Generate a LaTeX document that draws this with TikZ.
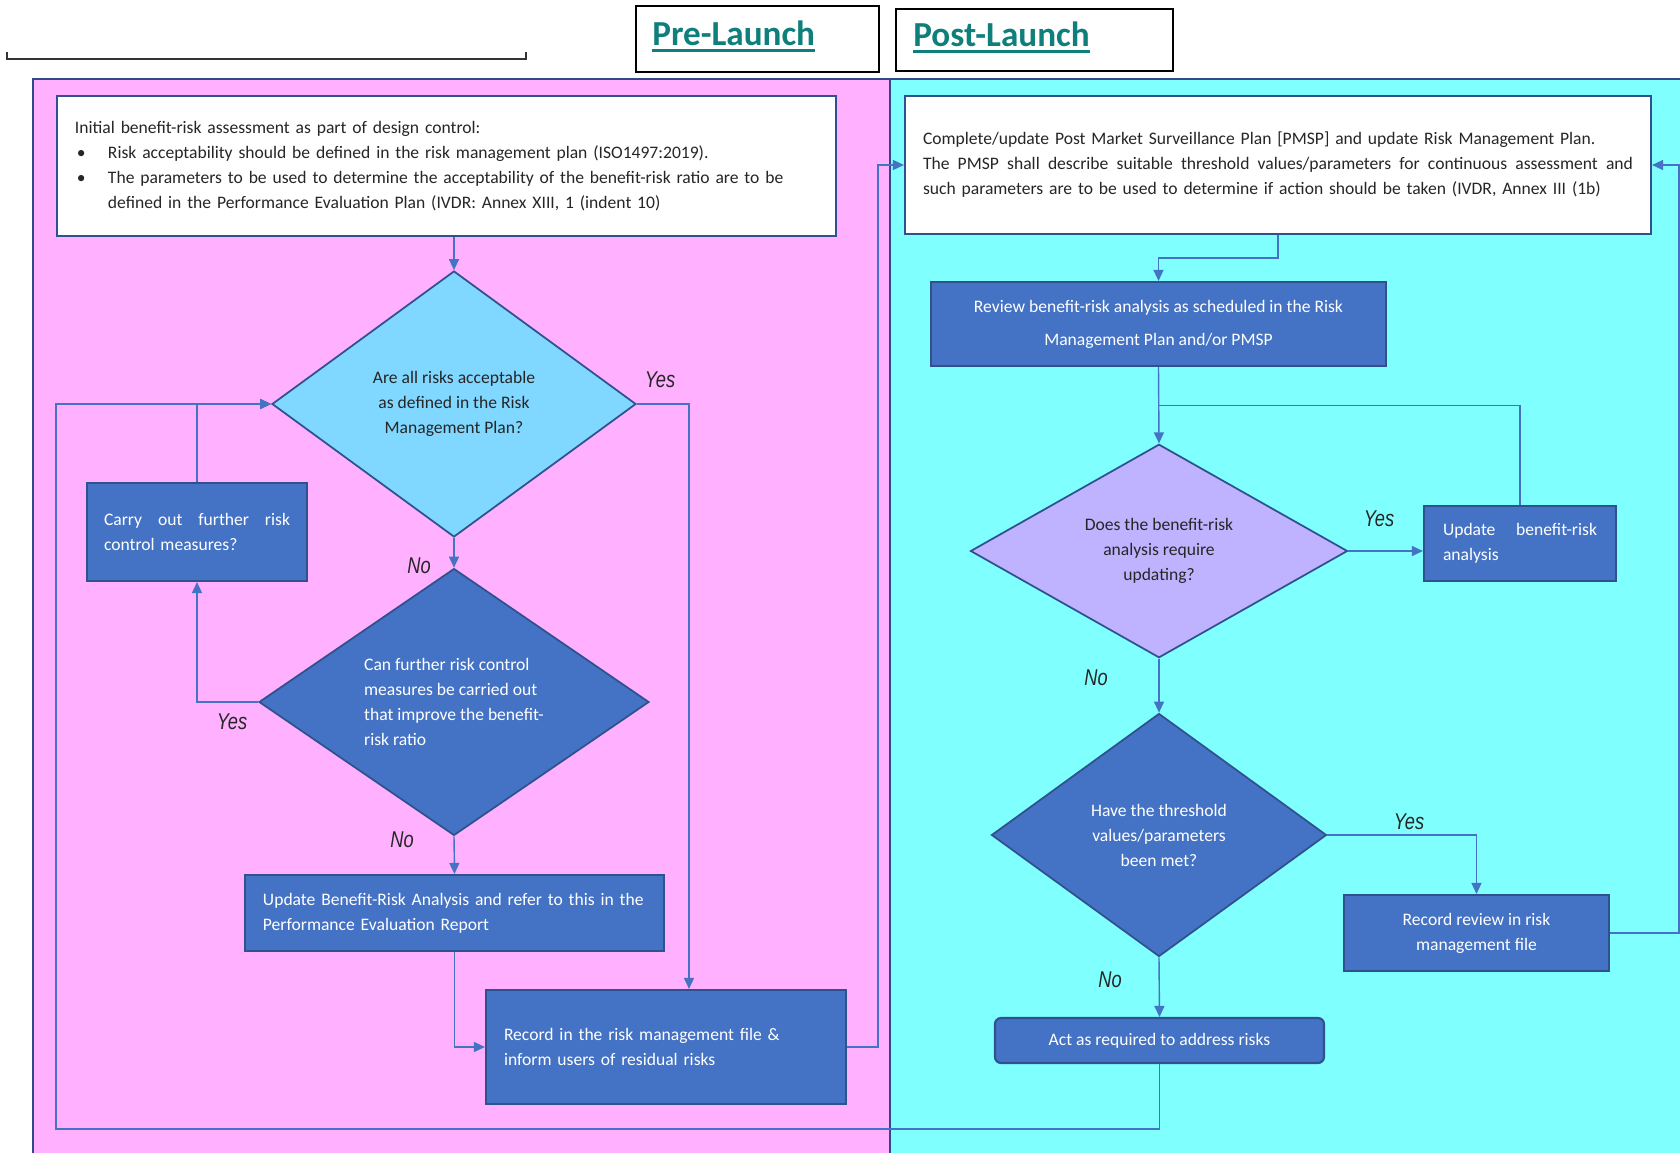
\documentclass[tikz,border=0pt]{standalone}
\usepackage{fontspec}
\setmainfont{Carlito}
\newfontfamily\lblfont[FakeStretch=0.8]{Liberation Sans}
\usetikzlibrary{shapes.geometric,arrows.meta,calc}

\definecolor{pinkbg}{HTML}{FFB1FF}
\definecolor{cyanbg}{HTML}{80FFFF}
\definecolor{panelline}{HTML}{2F4A8A}
\definecolor{boxblue}{HTML}{4472C4}
\definecolor{boxedge}{HTML}{2F528F}
\definecolor{skyq}{HTML}{80D7FF}
\definecolor{lilacq}{HTML}{BFB2FF}
\definecolor{titleteal}{HTML}{0E7F7A}
\definecolor{txtgray}{HTML}{262626}

\newcommand{\fullline}[2]{\leavevmode\hbox to #1{\spaceskip=0.23em plus 2em\relax #2}}
\newcommand{\thickul}[1]{\setbox0\hbox{#1}\rlap{\rule[-4pt]{\wd0}{1.6pt}}\box0}

\tikzset{
	bodyfont/.style={font=\fontsize{10}{14.2}\selectfont},
	whitebox/.style={rectangle, draw=boxedge, line width=1.2pt, fill=white, text=txtgray, bodyfont, align=left, inner xsep=3.6mm, inner ysep=0pt},
	bluebox/.style={rectangle, draw=boxedge, line width=1.2pt, fill=boxblue, text=white, bodyfont, inner xsep=3.6mm, inner ysep=0pt},
	decision/.style={diamond, draw=boxedge, line width=1pt, bodyfont, inner sep=0pt},
	conn/.style={draw=boxblue, line width=0.8pt, -{Triangle[length=2.2mm,width=2mm]}},
	link/.style={draw=boxblue, line width=0.8pt},
	answer/.style={font=\lblfont\itshape\fontsize{13}{13}\selectfont, text=txtgray, inner sep=0pt},
	title/.style={font=\bfseries\fontsize{20}{22}\selectfont, text=titleteal, anchor=base west, inner sep=0pt},
}

\begin{document}
\begin{tikzpicture}[x=0.2mm, y=-0.2mm]
	\useasboundingbox (0,0) rectangle (1680,1153);

	% panels
	\fill [pinkbg] (33,79) rectangle (890,1153);
	\fill [cyanbg] (890,79) rectangle (1680,1153);
	\draw [panelline, line width=1.2pt] (33,1153) -- (33,79) -- (1680,79);
	\draw [panelline, line width=1.2pt] (890,79) -- (890,1153);

	% headings
	\draw [black!80, line width=1pt] (7,52) -- (7,59) -- (526,59) -- (526,52);
	\draw [black, line width=0.9pt] (636,6) rectangle (879,72);
	\draw [black, line width=0.9pt] (896,9) rectangle (1173,71);
	\node [title] (pre) at (652,45) {\thickul{Pre-Launch}};
	\node [title] (post) at (913,46) {\thickul{Post-Launch}};

	% pre-launch
	\node [whitebox, minimum width=155.8mm, minimum height=28mm, text width=148.6mm] (tl) at (446.5,166) {Initial benefit-risk assessment as part of design control:\\
		\makebox[6.6mm][l]{\hspace{0.4mm}\textbullet}Risk acceptability should be defined in the risk management plan (ISO1497:2019).\\
		\makebox[6.6mm][l]{\hspace{0.4mm}\textbullet}The parameters to be used to determine the acceptability of the benefit-risk ratio are to be\\
		\hspace*{6.6mm}defined in the Performance Evaluation Plan (IVDR: Annex XIII, 1 (indent 10)};
	\node [decision, fill=skyq, text=txtgray, align=center, minimum width=72.8mm, minimum height=53.2mm] (q1) at (454,404) {Are all risks acceptable\\as defined in the Risk\\Management Plan?};
	\node [decision, fill=boxblue, text=white, align=left, minimum width=78mm, minimum height=48.4mm] (q2) at (454,702) {Can further risk control\\measures be carried out\\that improve the benefit-\\risk ratio};
	\node [bluebox, align=left, inner xsep=3.4mm, minimum width=44mm, minimum height=19.6mm, text width=37.2mm] (carry) at (197,532) {\fullline{37.2mm}{Carry out further risk}\\control measures?};
	\node [bluebox, align=left, minimum width=83.8mm, minimum height=15.2mm, text width=76.6mm] (upd) at (454.5,913) {Update Benefit-Risk Analysis and refer to this in the\\Performance Evaluation Report};
	\node [bluebox, align=left, minimum width=72mm, minimum height=22.8mm, text width=64.8mm] (rec) at (666,1047) {Record in the risk management file \&\\inform users of residual risks};

	% post-launch
	\node [whitebox, minimum width=149.2mm, minimum height=27.6mm, text width=142mm] (pmsp) at (1278,165) {Complete/update Post Market Surveillance Plan [PMSP] and update Risk Management Plan.\\
		\fullline{142mm}{The PMSP shall describe suitable threshold values/parameters for continuous assessment and}\\
		such parameters are to be used to determine if action should be taken (IVDR, Annex III (1b)};
	\node [bluebox, align=center, font=\fontsize{10}{18.7}\selectfont, minimum width=91mm, minimum height=16.8mm] (review) at (1158.5,324) {Review benefit-risk analysis as scheduled in the Risk\\Management Plan and/or PMSP};
	\node [decision, fill=lilacq, text=txtgray, align=center, minimum width=75.4mm, minimum height=41.2mm] (q3) at (1159,551) {Does the benefit-risk\\analysis require\\updating?};
	\node [bluebox, align=left, inner xsep=3.8mm, minimum width=38.4mm, minimum height=15mm, text width=30.8mm] (ubr) at (1520,543.5) {\fullline{30.8mm}{Update benefit-risk}\\analysis};
	\node [decision, fill=boxblue, text=white, align=center, minimum width=67mm, minimum height=48.6mm] (q4) at (1159,835) {Have the threshold\\values/parameters\\been met?};
	\node [bluebox, align=center, minimum width=53mm, minimum height=15.2mm] (rrev) at (1476.5,933) {Record review in risk\\management file};
	\node [bluebox, align=center, rounded corners=1.2mm, minimum width=65.8mm, minimum height=9mm] (act) at (1159.5,1040.5) {Act as required to address risks};

	% connectors
	\draw [conn] (tl.south -| q1.north) -- (q1.north);
	\draw [conn] (q1.south) -- (q2.north);
	\draw [conn] (q2.west) -| (carry.south);
	\draw [conn] (carry.north) |- (q1.west);
	\draw [conn] (q1.east) -| ([xshift=4.6mm]rec.north);
	\draw [conn] (q2.south) -- (upd.north);
	\draw [conn] (upd.south) |- (rec.west);
	\draw [conn] (rec.east) -- ++(6.2mm,0) |- (pmsp.west);
	\draw [conn] (pmsp.south) -- ++(0,-4.6mm) -| (review.north);
	\draw [conn] (review.south) -- (q3.north);
	\coordinate (jr) at ($(review.south)!0.5!(q3.north)$);
	\draw [link] (ubr.north) |- (jr);
	\draw [conn] (q3.east) -- (q3.east -| ubr.west);
	\draw [conn] (q3.south) -- (q4.north);
	\draw [conn] (q4.east) -| (rrev.north);
	\draw [conn] (rrev.east) -- ++(13.8mm,0) |- (pmsp.east);
	\draw [conn] (q4.south) -- (act.north);
	\coordinate (lp) at ([yshift=-13mm]act.south);
	\draw [conn] (act.south) -- (lp) -- (lp -| tl.west) -- (tl.west |- q1.west) -- (q1.west);

	% answers
	\node [answer] (y1) at (660,380) {Yes};
	\node [answer] (n1) at (419,566) {No};
	\node [answer] (y2) at (232,722) {Yes};
	\node [answer] (n2) at (402,840) {No};
	\node [answer] (y3) at (1379,519) {Yes};
	\node [answer] (n3) at (1096,678) {No};
	\node [answer] (y4) at (1409,822) {Yes};
	\node [answer] (n4) at (1110,980) {No};
\end{tikzpicture}
\end{document}
